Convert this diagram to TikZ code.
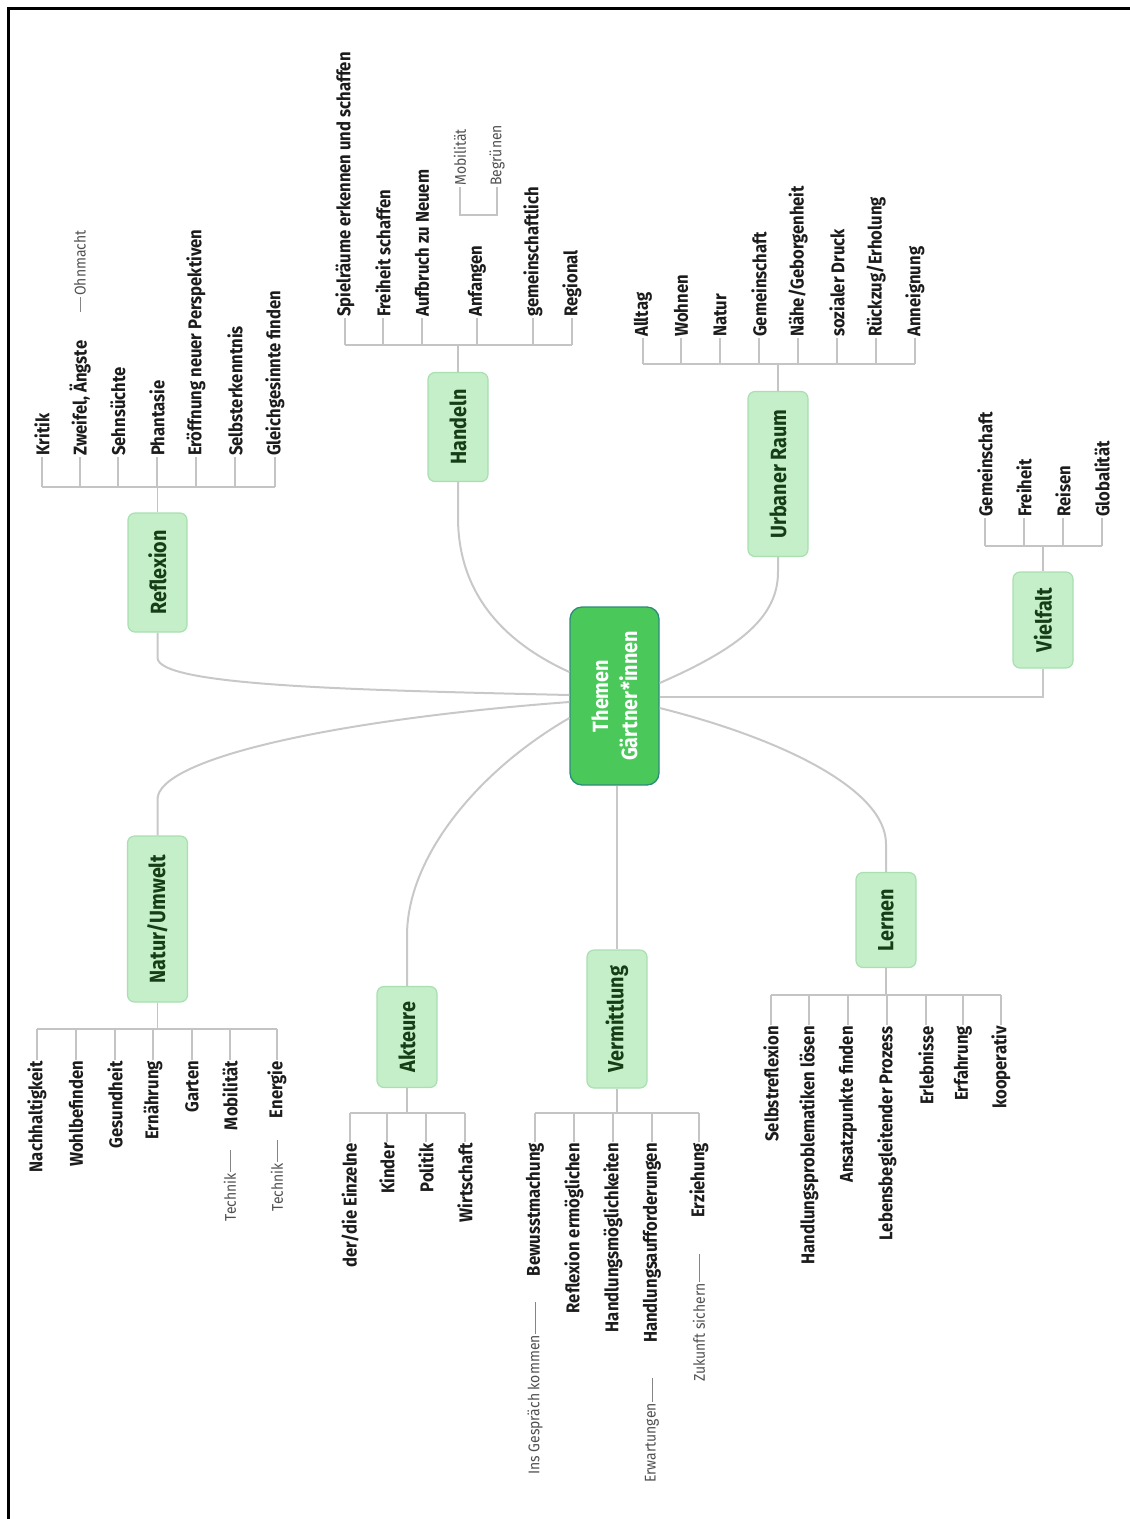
\documentclass[tikz,border=0pt]{standalone}
\usepackage{fontspec}
\setmainfont{Fira Sans}
\newfontfamily\cf{Fira Sans}[FakeStretch=0.9]
\usetikzlibrary{calc}
\definecolor{lineg}{HTML}{C8C8C8}
\definecolor{tickg}{HTML}{C4C4C4}
\definecolor{mainfill}{HTML}{C4EFC8}
\definecolor{mainbd}{HTML}{A9DFB1}
\definecolor{maintext}{HTML}{163D16}
\definecolor{ctrfill}{HTML}{4BC85A}
\definecolor{ctrbd}{HTML}{2C8C7A}
\definecolor{leaftext}{HTML}{1C1C1C}
\definecolor{subtext}{HTML}{505050}
\begin{document}
\begin{tikzpicture}[x=1pt,y=-1pt,
 conn/.style={draw=lineg, line width=2pt},
 tick/.style={draw=tickg, line width=1.6pt},
 subline/.style={draw=subtext!70, line width=0.9pt},
 mainbox/.style={rotate=90, draw=mainbd, fill=mainfill, line width=1.2pt, rounded corners=7pt, font=\cf\fontsize{22}{26}\bfseries, text=maintext, inner sep=0pt},
 leafU/.style={rotate=90, anchor=west, inner xsep=1pt, inner ysep=0pt, font=\cf\fontsize{18.5}{20}\bfseries, text=leaftext},
 leafD/.style={leafU, anchor=east},
 subU/.style={rotate=90, anchor=west, inner xsep=1pt, inner ysep=0pt, font=\cf\fontsize{15.5}{17}\selectfont, text=subtext},
 subD/.style={subU, anchor=east},
]
\useasboundingbox (0,0) rectangle (1130,1519);
% frame
\draw[line width=3pt] (8,1519) -- (8,8) -- (1130,8);

% center
\node[rotate=90, draw=ctrbd, fill=ctrfill, line width=1.3pt, rounded corners=12pt,
      minimum width=178pt, minimum height=89pt, inner sep=0pt, align=center,
      font=\cf\fontsize{22}{29}\bfseries, text=white] (ctr) at (614.5,696) {Themen\\Gärtner*innen};

% main nodes
\node[mainbox, minimum width=119pt, minimum height=59pt] (refl) at (157.5,572.5) {Reflexion};
\node[mainbox, minimum width=109pt, minimum height=60pt] (hand) at (458,427) {Handeln};
\node[mainbox, minimum width=165pt, minimum height=60pt] (urb) at (778,474) {Urbaner Raum};
\node[mainbox, minimum width=96pt, minimum height=60pt] (viel) at (1043,620) {Vielfalt};
\node[mainbox, minimum width=166pt, minimum height=60pt] (natur) at (157.5,919) {Natur/Umwelt};
\node[mainbox, minimum width=101pt, minimum height=60pt] (akt) at (407,1037) {Akteure};
\node[mainbox, minimum width=138pt, minimum height=60pt] (verm) at (617,1019) {Vermittlung};
\node[mainbox, minimum width=95pt, minimum height=60pt] (lern) at (886,920) {Lernen};

% connectors from center
\draw[conn] (refl.west) -- ++(0,25) .. controls +(0,28) and +(-220,-5) .. ($(ctr.north)+(0,-1)$);
\draw[conn] (natur.east) -- ++(0,-36) .. controls +(0,-40) and +(-240,18) .. ($(ctr.north)+(0,6)$);
\draw[conn] (akt.east) -- ++(0,-50) .. controls +(0,-80) and +(-90,52) .. ($(ctr.north)+(0,22)$);
\draw[conn] (hand.west) -- ++(0,35) .. controls +(0,85) and +(-55,-25) .. ($(ctr.north)+(0,-24)$);
\draw[conn] (urb.west) -- ++(0,15) .. controls +(0,45) and +(80,-35) .. ($(ctr.south)+(0,-13)$);
\draw[conn] ($(ctr.south)+(0,1)$) -| (viel.west);
\draw[conn] ($(ctr.south)+(0,12)$) .. controls +(120,30) and +(0,-55) .. ($(lern.east)+(0,-28)$) -- (lern.east);
\draw[conn] (verm.east) -- (verm.east |- ctr.west);

% Reflexion leaves
\coordinate (rbar) at (157.5,487);
\draw[tick] (refl.east) -- (rbar);
\foreach \n/\x/\t in {r1/42/Kritik, r2/80/{Zweifel, Ängste}, r3/118/Sehnsüchte, r4/157/Phantasie, r5/196/Eröffnung neuer Perspektiven, r6/235/Selbsterkenntnis, r7/275/Gleichgesinnte finden}{
  \node[leafU] (\n) at (\x,457) {\t};
  \draw[tick] (\n.west) -- (\n.west |- rbar);
}
\draw[tick] (r1.west |- rbar) -- (r7.west |- rbar);
\node[subU] (oh) at (80,297) {Ohnmacht};
\coordinate (ohs) at (80,312);
\draw[subline] (ohs) -- (oh.west);

% Handeln leaves
\coordinate (hbar) at (458,345);
\draw[tick] (hand.east) -- (hbar);
\foreach \n/\x/\t in {h1/345/Spielräume erkennen und schaffen, h2/383/Freiheit schaffen, h3/422/Aufbruch zu Neuem, h4/477/Anfangen, h5/533/gemeinschaftlich, h6/572/Regional}{
  \node[leafU] (\n) at (\x,318) {\t};
  \draw[tick] (\n.west) -- (\n.west |- hbar);
}
\draw[tick] (h1.west |- hbar) -- (h6.west |- hbar);
\node[subU] (mob) at (460,187) {Mobilität};
\node[subU] (beg) at (497,187) {Begrünen};
\coordinate (bk) at (478,215);
\draw[tick] (mob.west) -- (mob.west |- bk) -- (beg.west |- bk) -- (beg.west);

% Urbaner Raum leaves
\coordinate (ubar) at (778,364);
\draw[tick] (urb.east) -- (ubar);
\foreach \n/\x/\t in {u1/643/Alltag, u2/681/Wohnen, u3/720/Natur, u4/759/Gemeinschaft, u5/798/{Nähe/Geborgenheit}, u6/837/sozialer Druck, u7/876/{Rückzug/Erholung}, u8/915/Anneignung}{
  \node[leafU] (\n) at (\x,338) {\t};
  \draw[tick] (\n.west) -- (\n.west |- ubar);
}
\draw[tick] (u1.west |- ubar) -- (u8.west |- ubar);

% Vielfalt leaves
\coordinate (vbar) at (1043,546);
\draw[tick] (viel.east) -- (vbar);
\foreach \n/\x/\t in {v1/985/Gemeinschaft, v2/1024/Freiheit, v3/1063/Reisen, v4/1102/Globalität}{
  \node[leafU] (\n) at (\x,518) {\t};
  \draw[tick] (\n.west) -- (\n.west |- vbar);
}
\draw[tick] (v1.west |- vbar) -- (v4.west |- vbar);

% Natur/Umwelt leaves
\coordinate (nbar) at (157.5,1029);
\draw[tick] (natur.west) -- (nbar);
\foreach \n/\x/\t in {n1/37/Nachhaltigkeit, n2/76/Wohlbefinden, n3/115/Gesundheit, n4/153/Ernährung, n5/192/Garten, n6/230/Mobilität, n7/277/Energie}{
  \node[leafD] (\n) at (\x,1060) {\t};
  \draw[tick] (\n.east) -- (\n.east |- nbar);
}
\draw[tick] (n1.east |- nbar) -- (n7.east |- nbar);
\node[subD] (t1) at (230,1172) {Technik};
\coordinate (t1s) at (230,1150);
\draw[subline] (t1s) -- (t1.east);
\node[subD] (t2) at (277,1162) {Technik};
\coordinate (t2s) at (277,1140);
\draw[subline] (t2s) -- (t2.east);

% Akteure leaves
\coordinate (abar) at (407,1113);
\draw[tick] (akt.west) -- (abar);
\foreach \n/\x/\t in {a1/350/{der/die Einzelne}, a2/387/Kinder, a3/426/Politik, a4/465/Wirtschaft}{
  \node[leafD] (\n) at (\x,1142) {\t};
  \draw[tick] (\n.east) -- (\n.east |- abar);
}
\draw[tick] (a1.east |- abar) -- (a4.east |- abar);

% Vermittlung leaves
\coordinate (mbar) at (617,1113);
\draw[tick] (verm.west) -- (mbar);
\foreach \n/\x/\t in {m1/535/Bewusstmachung, m2/574/Reflexion ermöglichen, m3/613/Handlungsmöglichkeiten, m4/652/Handlungsaufforderungen, m5/699/Erziehung}{
  \node[leafD] (\n) at (\x,1142) {\t};
  \draw[tick] (\n.east) -- (\n.east |- mbar);
}
\draw[tick] (m1.east |- mbar) -- (m5.east |- mbar);
\node[subD] (ig) at (535,1334) {Ins Gespräch kommen};
\coordinate (igs) at (535,1302);
\draw[subline] (igs) -- (ig.east);
\node[subD] (ew) at (652,1402) {Erwartungen};
\coordinate (ews) at (652,1378);
\draw[subline] (ews) -- (ew.east);
\node[subD] (zs) at (699,1282) {Zukunft sichern};
\coordinate (zss) at (699,1254);
\draw[subline] (zss) -- (zs.east);

% Lernen leaves
\coordinate (lbar) at (886,995);
\draw[tick] (lern.west) -- (lbar);
\foreach \n/\x/\t in {l1/771/Selbstreflexion, l2/809/Handlungsproblematiken lösen, l3/848/Ansatzpunkte finden, l4/887/Lebensbegleitender Prozess, l5/926/Erlebnisse, l6/963/Erfahrung, l7/1001/kooperativ}{
  \node[leafD] (\n) at (\x,1025) {\t};
  \draw[tick] (\n.east) -- (\n.east |- lbar);
}
\draw[tick] (l1.east |- lbar) -- (l7.east |- lbar);
\end{tikzpicture}
\end{document}
